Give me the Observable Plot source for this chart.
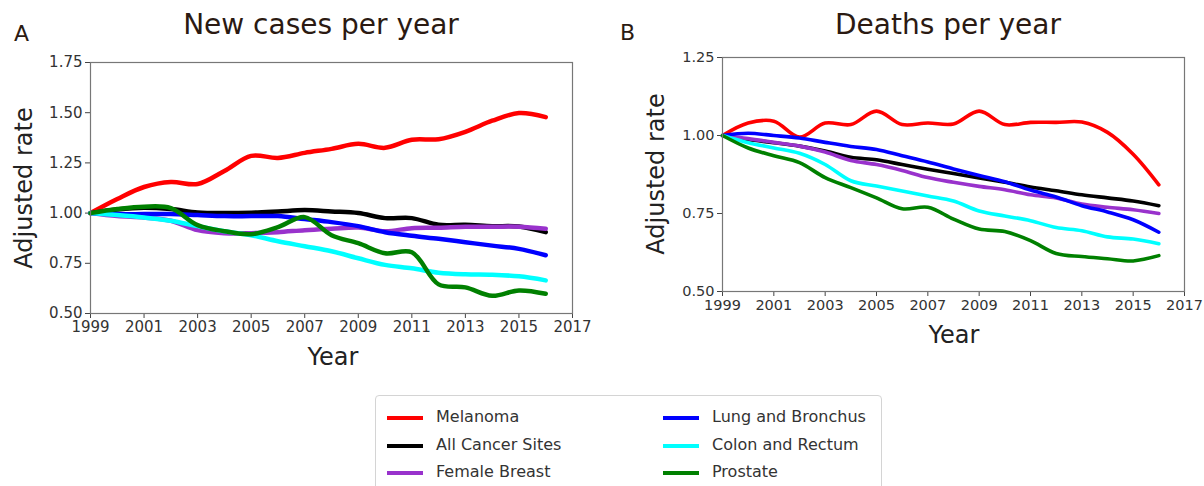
<!DOCTYPE html>
<html>
<head>
<meta charset="utf-8">
<script src="https://cdn.jsdelivr.net/npm/d3@7"></script>
<script src="https://cdn.jsdelivr.net/npm/@observablehq/plot@0.6"></script>
<style>
  html, body { margin: 0; padding: 0; background: #fff; }
  #root { position: relative; width: 1204px; height: 486px; overflow: hidden; background: #fff; font-family: "DejaVu Sans", sans-serif; }
  .abs { position: absolute; white-space: nowrap; }
  .title { font-family: "DejaVu Sans", sans-serif; font-size: 28px; color: #2b1a12; transform: translateX(-50%); line-height: 1; }
  .panel { font-family: "DejaVu Sans", sans-serif; font-size: 22px; color: #2b1a12; line-height: 1; }
  .axlab { font-size: 24px; color: #222; line-height: 1; }
  .ylab { transform: translate(-50%, -50%) rotate(-90deg); }
  .xlab { transform: translateX(-50%); }
  #legend { position: absolute; left: 375px; top: 395px; width: 507px; height: 110px; border: 1px solid #d4d4d4; border-radius: 4px; box-sizing: border-box; }
  .item { position: absolute; font-size: 16px; color: #333; line-height: 1; }
  .sw { position: absolute; width: 36px; height: 4px; }
  svg { overflow: visible; }
</style>
</head>
<body>
<div id="root"></div>
<script>
const years = [1999,2000,2001,2002,2003,2004,2005,2006,2007,2008,2009,2010,2011,2012,2013,2014,2015,2016];
const seriesNames = ["Melanoma","All Cancer Sites","Female Breast","Lung and Bronchus","Colon and Rectum","Prostate"];
const seriesColors = ["#ff0000","#000000","#9932cc","#0000ff","#00ffff","#008000"];
const xTicks = [1999,2001,2003,2005,2007,2009,2011,2013,2015,2017];
const yTicksCases = [0.50,0.75,1.00,1.25,1.50,1.75];
const yTicksDeaths = [0.50,0.75,1.00,1.25];

// New cases per year (adjusted rate, relative to 1999)
const melanomaCases = [1.00,1.07,1.13,1.155,1.145,1.21,1.285,1.275,1.30,1.32,1.345,1.325,1.365,1.368,1.405,1.46,1.498,1.478];
const allCases      = [1.00,1.018,1.027,1.02,1.003,1.0,1.002,1.008,1.015,1.008,1.0,0.975,0.975,0.942,0.942,0.935,0.933,0.905];
const breastCases   = [1.00,0.985,0.978,0.962,0.915,0.9,0.9,0.905,0.915,0.922,0.928,0.91,0.925,0.927,0.932,0.932,0.932,0.922];
const lungCases     = [1.00,0.995,0.995,0.995,0.99,0.985,0.985,0.985,0.97,0.955,0.935,0.905,0.887,0.872,0.855,0.838,0.822,0.79];
const colonCases    = [1.00,0.99,0.978,0.962,0.935,0.91,0.89,0.86,0.835,0.81,0.775,0.742,0.725,0.703,0.695,0.693,0.685,0.665];
const prostateCases = [1.00,1.02,1.032,1.025,0.94,0.91,0.895,0.93,0.98,0.89,0.85,0.80,0.805,0.645,0.63,0.588,0.615,0.598];

// Deaths per year (adjusted rate, relative to 1999)
const melanomaDeaths = [1.00,1.04,1.046,0.995,1.04,1.035,1.078,1.035,1.04,1.037,1.078,1.035,1.042,1.042,1.043,1.01,0.94,0.842];
const allDeaths      = [1.00,0.987,0.977,0.966,0.95,0.93,0.922,0.907,0.892,0.878,0.864,0.85,0.835,0.823,0.81,0.8,0.79,0.775];
const breastDeaths   = [1.00,0.99,0.978,0.966,0.947,0.92,0.907,0.888,0.865,0.85,0.837,0.826,0.81,0.8,0.78,0.77,0.762,0.75];
const lungDeaths     = [1.00,1.007,1.0,0.992,0.978,0.965,0.955,0.935,0.915,0.893,0.872,0.852,0.825,0.803,0.775,0.755,0.73,0.69];
const colonDeaths    = [1.00,0.977,0.96,0.943,0.907,0.855,0.838,0.822,0.806,0.79,0.758,0.742,0.727,0.705,0.695,0.675,0.668,0.653];
const prostateDeaths = [1.00,0.96,0.935,0.913,0.865,0.833,0.8,0.765,0.77,0.732,0.7,0.692,0.663,0.622,0.612,0.605,0.598,0.615];

const casesSeries = [melanomaCases, allCases, breastCases, lungCases, colonCases, prostateCases];
const deathsSeries = [melanomaDeaths, allDeaths, breastDeaths, lungDeaths, colonDeaths, prostateDeaths];

function toRows(list) {
  const rows = [];
  list.forEach((vals, i) => vals.forEach((v, j) => rows.push({series: seriesNames[i], year: years[j], value: v})));
  return rows;
}

function makeChart(list, opts) {
  const rows = toRows(list);
  return Plot.plot({
    width: opts.width, height: opts.height,
    marginLeft: opts.ml, marginRight: opts.mr, marginTop: opts.mt, marginBottom: opts.mb,
    style: {fontFamily: "DejaVu Sans, sans-serif", fontSize: opts.fs, color: "#333", background: "transparent"},
    x: {domain: [1999, 2017], label: null},
    y: {domain: opts.ydomain, label: null},
    color: {domain: seriesNames, range: seriesColors},
    marks: [
      Plot.axisX({ticks: xTicks, tickFormat: d => String(d), tickSize: 5, tickPadding: 3, label: null, stroke: "#444"}),
      Plot.axisY({ticks: opts.yticks, tickFormat: d3.format(".2f"), tickSize: 5, tickPadding: 3, label: null, stroke: "#444"}),
      ...seriesNames.map(name => Plot.line(rows.filter(r => r.series === name), {
        x: "year", y: "value", stroke: "series", strokeWidth: opts.sw, curve: "catmull-rom",
        strokeLinecap: "round", strokeLinejoin: "round"
      })),
      Plot.frame({stroke: "#777", strokeWidth: 1.2})
    ]
  });
}

const root = document.getElementById("root");

function addDiv(cls, text, styles) {
  const d = document.createElement("div");
  d.className = "abs " + cls;
  d.textContent = text;
  Object.assign(d.style, styles);
  root.appendChild(d);
  return d;
}

// Left chart
const left = makeChart(casesSeries, {width: 600, height: 345, ml: 90, mr: 28, mt: 62, mb: 32, ydomain: [0.5, 1.75], yticks: yTicksCases, sw: 4.5, fs: "15px"});
left.style.position = "absolute"; left.style.left = "0px"; left.style.top = "0px";
root.appendChild(left);

// Right chart
const right = makeChart(deathsSeries, {width: 604, height: 330, ml: 122, mr: 20, mt: 57, mb: 39, ydomain: [0.5, 1.25], yticks: yTicksDeaths, sw: 3.6, fs: "14.5px"});
right.style.position = "absolute"; right.style.left = "600px"; right.style.top = "0px";
root.appendChild(right);

// Titles and labels
addDiv("panel", "A", {left: "14px", top: "23px"});
addDiv("panel", "B", {left: "620px", top: "22px"});
addDiv("title", "New cases per year", {left: "321px", top: "11px"});
addDiv("title", "Deaths per year", {left: "948px", top: "11px"});
addDiv("axlab ylab", "Adjusted rate", {left: "24px", top: "188px"});
addDiv("axlab ylab", "Adjusted rate", {left: "656px", top: "174px"});
addDiv("axlab xlab", "Year", {left: "333px", top: "345px"});
addDiv("axlab xlab", "Year", {left: "954px", top: "323px"});

// Legend
const legend = document.createElement("div");
legend.id = "legend";
root.appendChild(legend);
seriesNames.forEach((name, i) => {
  const col = Math.floor(i / 3), row = i % 3;
  const lx = col === 0 ? 11 : 287;
  const ty = 22 + row * 27.5;
  const sw = document.createElement("div");
  sw.className = "sw";
  Object.assign(sw.style, {left: lx + "px", top: (ty - 2) + "px", background: seriesColors[i]});
  legend.appendChild(sw);
  const t = document.createElement("div");
  t.className = "item";
  t.textContent = name;
  Object.assign(t.style, {left: (lx + 49) + "px", top: (ty - 9) + "px"});
  legend.appendChild(t);
});
</script>
</body>
</html>
